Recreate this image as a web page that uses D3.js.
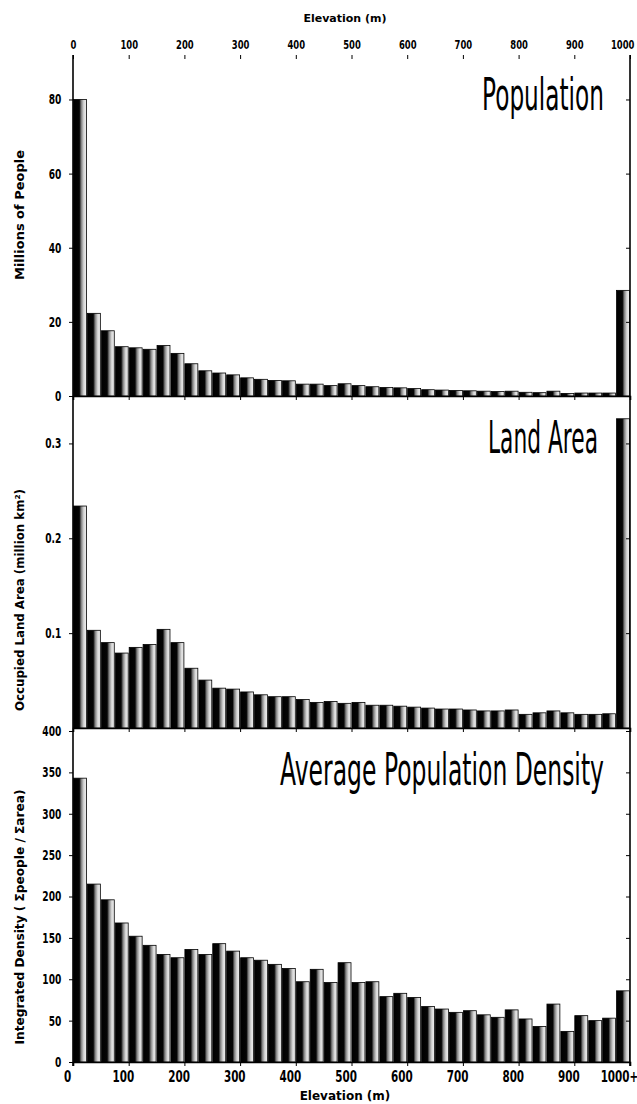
<!DOCTYPE html>
<html>
<head>
<meta charset="utf-8">
<script src="https://cdn.jsdelivr.net/npm/d3@7"></script>
<style>
  body { margin: 0; background: #fff; }
  text { font-family: "DejaVu Sans", sans-serif; }
</style>
</head>
<body>
<script>
// 25 m elevation bins, the last one is 1000+
var binSize = 25;
var binStarts = d3.range(0, 1000, 25);

// Millions of people per bin
var population = [80, 22.3, 17.6, 13.3, 13.0, 12.6, 13.6, 11.5, 8.7, 6.8,
  6.2, 5.7, 4.9, 4.5, 4.2, 4.1, 3.2, 3.2, 2.8, 3.3,
  2.8, 2.5, 2.3, 2.2, 2.0, 1.7, 1.6, 1.5, 1.4, 1.3,
  1.2, 1.3, 1.0, 0.9, 1.3, 0.7, 0.8, 0.8, 0.8, 28.5];

// Occupied land area, million km^2
var landArea = [0.234, 0.103, 0.090, 0.079, 0.085, 0.088, 0.104, 0.090, 0.063, 0.0505,
  0.042, 0.041, 0.038, 0.035, 0.033, 0.033, 0.030, 0.027, 0.028, 0.026,
  0.027, 0.024, 0.024, 0.023, 0.022, 0.021, 0.020, 0.020, 0.019, 0.018,
  0.018, 0.019, 0.0144, 0.016, 0.018, 0.016, 0.0144, 0.0144, 0.015, 0.326];

// Integrated density, people per km^2
var density = [343, 215, 196, 168, 152, 141, 130, 126, 136, 130,
  143, 134, 126, 123, 118, 113, 97, 112, 96, 120,
  96, 97, 79, 83, 78, 67, 64, 60, 62, 57,
  54, 63, 52, 43, 70, 37, 56, 50, 53, 86];

var xTicks = d3.range(0, 1001, 100);
var bottomLabels = ["0", "100", "200", "300", "400", "500", "600", "700", "800", "900", "1000+"];

var width = 637, height = 1104;
var leftX = 73, rightX = 630, topY = 55;
var squeeze = "scale(0.65,1)"; // narrow the tick digits like the condensed face in the original

var svg = d3.select("body").append("svg")
  .attr("width", width)
  .attr("height", height);

// shaded bar fill, dark on the left fading out to the right
var grad = svg.append("defs").append("linearGradient")
  .attr("id", "barGrad")
  .attr("x1", "0%").attr("x2", "100%").attr("y1", "0%").attr("y2", "0%");
grad.append("stop").attr("offset", "0%").attr("stop-color", "#000");
grad.append("stop").attr("offset", "45%").attr("stop-color", "#050505");
grad.append("stop").attr("offset", "60%").attr("stop-color", "#808080");
grad.append("stop").attr("offset", "80%").attr("stop-color", "#d8d8d8");
grad.append("stop").attr("offset", "100%").attr("stop-color", "#eeeeee");

var x = d3.scaleLinear().domain([0, 1000]).range([leftX, rightX]);

//panels: data, y domain, pixel range, tick values, labels
var panels = [
  {name: "Population", data: population, domain: [0, 92], range: [396, topY],
   ticks: [0, 20, 40, 60, 80], fmt: function(d){ return d; },
   ylabel: "Millions of People", labelY: 215, labelW: 130,
   titleX: 604, titleY: 110, titleW: 122},
  {name: "Land Area", data: landArea, domain: [0, 0.35], range: [728, 396],
   ticks: [0.1, 0.2, 0.3], fmt: function(d){ return d3.format(".1f")(d); },
   ylabel: "Occupied Land Area (million km²)", labelY: 600, labelW: 222,
   titleX: 598, titleY: 453, titleW: 110},
  {name: "Average Population Density", data: density, domain: [0, 400], range: [1062, 731],
   ticks: [0, 50, 100, 150, 200, 250, 300, 350, 400], fmt: function(d){ return d; },
   ylabel: "Integrated Density ( Σpeople / Σarea)", labelY: 917, labelW: 255,
   titleX: 604, titleY: 785, titleW: 324}
];

panels.forEach(function(p, pi){
  var y = d3.scaleLinear().domain(p.domain).range(p.range);
  var g = svg.append("g");

  g.selectAll("rect.bar")
    .data(p.data)
    .enter()
    .append("rect")
    .attr("class", "bar")
    .attr("x", function(d, i){ return x(binStarts[i]) + 0.5; })
    .attr("width", function(d, i){ return x(binStarts[i] + binSize) - x(binStarts[i]) - 1; })
    .attr("y", function(d){ return y(d); })
    .attr("height", function(d){ return y(0) - y(d); })
    .style("fill", "url(#barGrad)")
    .style("stroke", "#000")
    .style("stroke-width", 0.8);

  // left axis
  var yAxis = d3.axisLeft(y).tickValues(p.ticks).tickSize(4).tickPadding(14).tickFormat(p.fmt);
  var ax = g.append("g").attr("transform", "translate(" + leftX + ",0)").call(yAxis);
  ax.select(".domain").remove();
  ax.selectAll("text")
    .attr("font-size", 14).attr("font-weight", "bold")
    .attr("font-family", null)
    .attr("transform", squeeze);

  // right axis, ticks pointing in
  var rAxis = d3.axisLeft(y).tickValues(p.ticks).tickSize(4).tickFormat("");
  var rx = g.append("g").attr("transform", "translate(" + rightX + ",0)").call(rAxis);
  rx.select(".domain").remove();

  // baseline with small ticks below
  var bAxis = d3.axisBottom(x).tickValues(xTicks).tickSize(4).tickFormat("");
  var bx = g.append("g").attr("transform", "translate(0," + p.range[0] + ")").call(bAxis);
  bx.select(".domain").attr("stroke-width", 1.6);

  if (pi == 2) {
    bx.selectAll(".tick")
      .append("text")
      .attr("y", 20)
      .attr("x", function(d){ return d == 1000 ? -17 : -9; })
      .attr("fill", "#000")
      .attr("text-anchor", "middle")
      .attr("font-size", 16)
      .attr("font-weight", "bold")
      .attr("transform", squeeze)
      .text(function(d, i){ return bottomLabels[i]; });
  }

  // panel title
  g.append("text")
    .attr("x", p.titleX)
    .attr("y", p.titleY)
    .attr("text-anchor", "end")
    .attr("font-family", "'DejaVu Sans', sans-serif")
    .attr("font-size", 44)
    .attr("textLength", p.titleW)
    .attr("lengthAdjust", "spacingAndGlyphs")
    .text(p.name);

  // y axis title
  g.append("text")
    .attr("transform", "translate(24," + p.labelY + ") rotate(-90)")
    .attr("x", -p.labelW / 2)
    .attr("font-size", 13)
    .attr("font-weight", "bold")
    .attr("textLength", p.labelW)
    .attr("lengthAdjust", "spacingAndGlyphs")
    .text(p.ylabel);
});

// frame lines
svg.append("line").attr("x1", leftX).attr("x2", leftX).attr("y1", topY).attr("y2", 1066)
  .attr("stroke", "#000").attr("stroke-width", 1.6);
svg.append("line").attr("x1", rightX).attr("x2", rightX).attr("y1", topY).attr("y2", 1066)
  .attr("stroke", "#000").attr("stroke-width", 1.6);

// top elevation axis
var tAxis = d3.axisTop(x).tickValues(xTicks).tickSize(4).tickPadding(6).tickFormat(d3.format("d"));
var tx = svg.append("g").attr("transform", "translate(0," + (topY + 4) + ")").call(tAxis);
tx.select(".domain").remove();
tx.selectAll("text")
  .attr("font-size", 13).attr("font-weight", "bold").attr("font-family", null)
  .attr("transform", squeeze)
  .attr("x", function(d){ return d == 1000 ? -12 : 0; });

svg.append("text")
  .attr("x", 345).attr("y", 22)
  .attr("text-anchor", "middle")
  .attr("font-size", 11).attr("font-weight", "bold")
  .text("Elevation (m)");

svg.append("text")
  .attr("x", 345).attr("y", 1100)
  .attr("text-anchor", "middle")
  .attr("font-size", 12).attr("font-weight", "bold")
  .text("Elevation (m)");
</script>
</body>
</html>
